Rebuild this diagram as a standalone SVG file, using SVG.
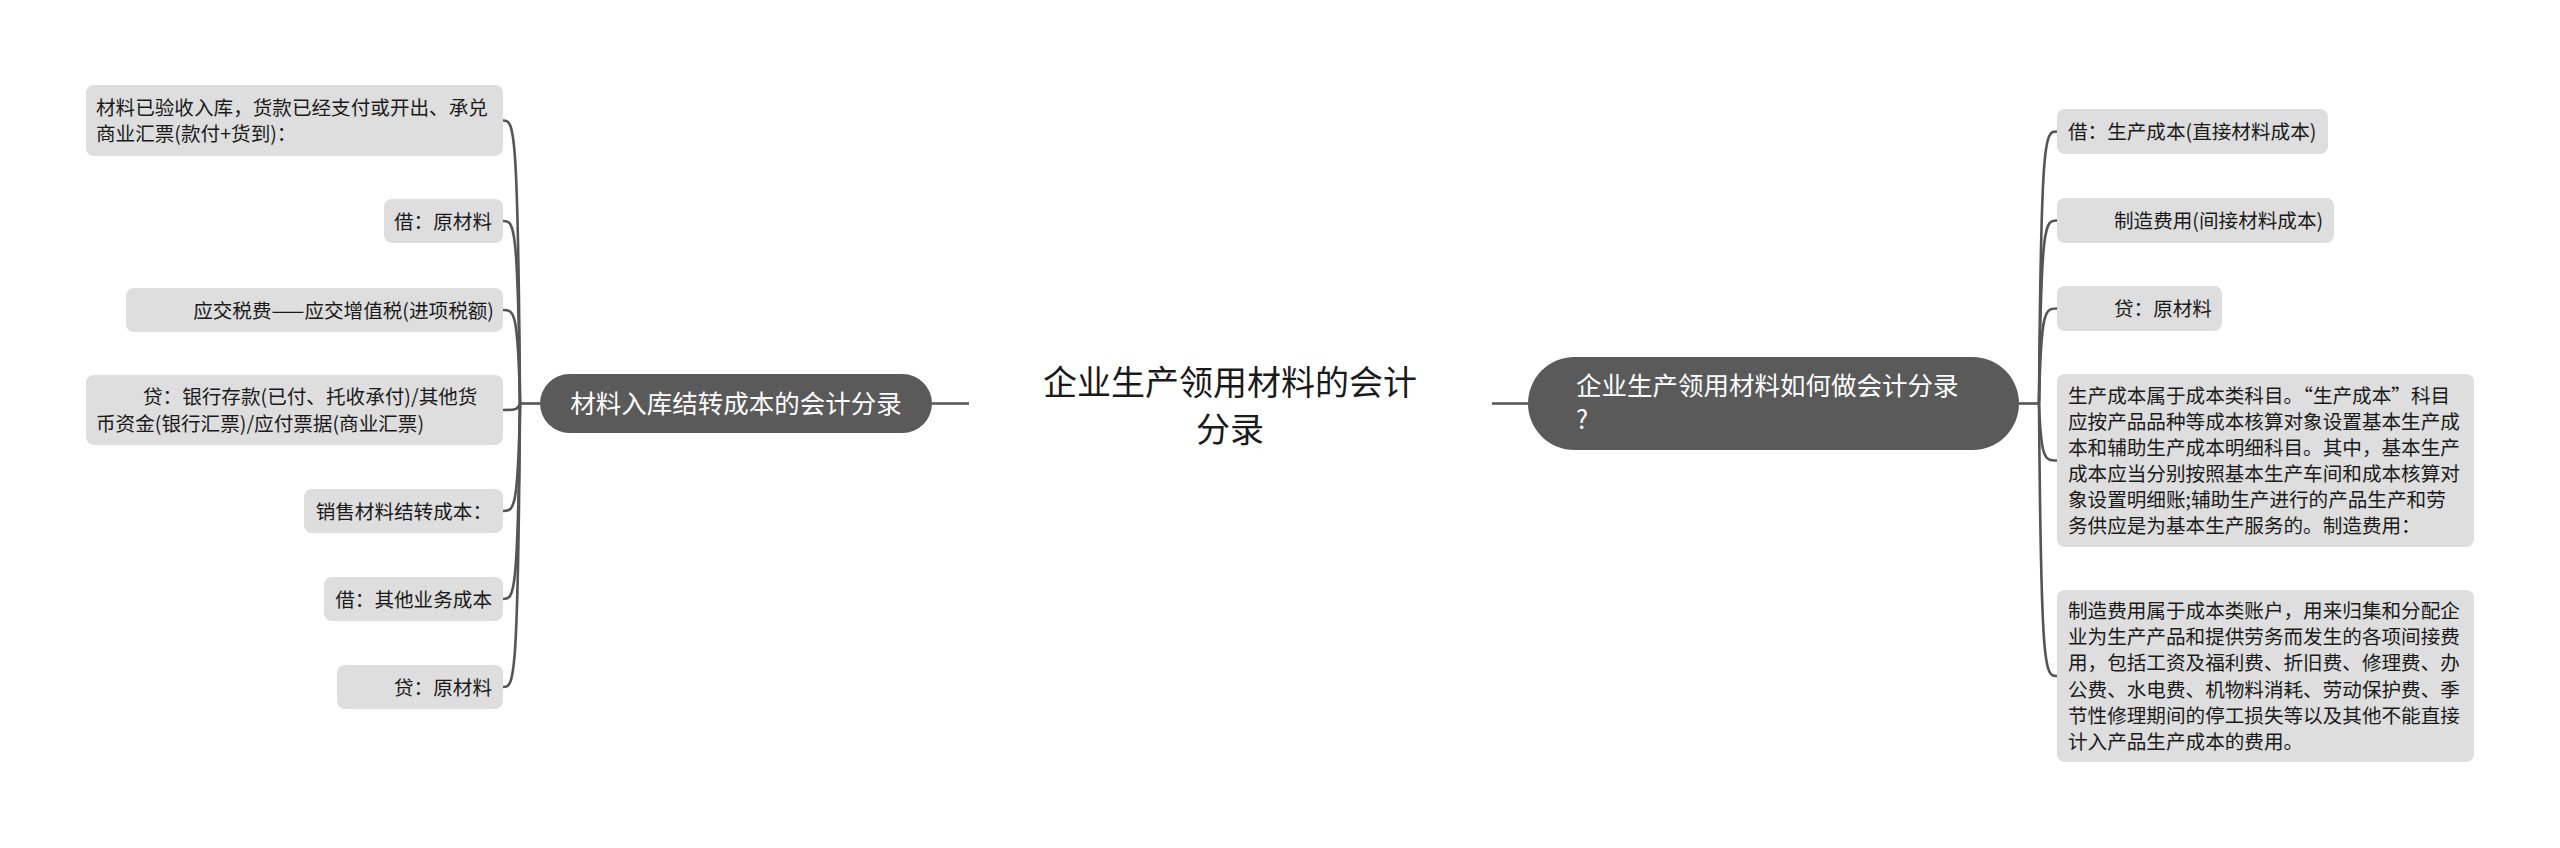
<svg xmlns="http://www.w3.org/2000/svg" width="2560" height="848" viewBox="0 0 2560 848">
<style>
text { font-family: "Noto Sans CJK SC", "Liberation Sans", sans-serif; }
.leaf rect { fill: #dedede; }
.leaf text { font-size: 19.6px; fill: #1a1a1a; }
.branch rect { fill: #5a5a5a; }
.branch text { font-size: 25.5px; fill: #ffffff; }
.title text { font-size: 34px; fill: #1a1a1a; }
.conn path { fill: none; stroke: #555555; stroke-width: 2.6; }
.e { text-anchor: end; }
</style>
<rect width="2560" height="848" fill="#ffffff"/>
<g id="connectors" class="conn">
  <path d="M932 403.5 L969 403.5"/>
  <path d="M1492 403.5 L1528 403.5"/>
  <path d="M540 403.5 L520 403.5"/>
  <path d="M520 403.5 C518 120.5, 514 120.5, 503 120.5"/>
  <path d="M520 403.5 C518 221, 514 221, 503 221"/>
  <path d="M520 403.5 C518 310, 514 310, 503 310"/>
  <path d="M520 403.5 C518 410, 514 410, 503 410"/>
  <path d="M520 403.5 C518 511, 514 511, 503 511"/>
  <path d="M520 403.5 C518 599, 514 599, 503 599"/>
  <path d="M520 403.5 C518 687, 514 687, 503 687"/>
  <path d="M2019 403.5 L2039 403.5"/>
  <path d="M2039 403.5 C2041 131.5, 2045 131.5, 2057 131.5"/>
  <path d="M2039 403.5 C2041 220.5, 2045 220.5, 2057 220.5"/>
  <path d="M2039 403.5 C2041 308.5, 2045 308.5, 2057 308.5"/>
  <path d="M2039 403.5 C2041 460.5, 2045 460.5, 2057 460.5"/>
  <path d="M2039 403.5 C2041 676, 2045 676, 2057 676"/>
</g>
<g id="title" class="title">
  <text x="1230" y="395" text-anchor="middle">企业生产领用材料的会计</text>
  <text x="1230" y="442" text-anchor="middle">分录</text>
</g>
<g id="branch-left" class="branch">
  <rect x="540" y="374" width="392" height="59" rx="29.5"/>
  <text x="736" y="413" text-anchor="middle">材料入库结转成本的会计分录</text>
</g>
<g id="branch-right" class="branch">
  <rect x="1528" y="357" width="491" height="93" rx="46.5"/>
  <text x="1576" y="395">企业生产领用材料如何做会计分录</text>
  <text x="1576" y="429">?</text>
</g>
<g id="l1" class="leaf">
  <rect x="86" y="85" width="417" height="71" rx="8"/>
  <text x="96" y="114.75">材料已验收入库，货款已经支付或开出、承兑</text>
  <text x="96" y="141.25">商业汇票(款付+货到)：</text>
</g>
<g id="l2" class="leaf">
  <rect x="384" y="199" width="119" height="44" rx="8"/>
  <text class="e" x="492" y="228.5">借：原材料</text>
</g>
<g id="l3" class="leaf">
  <rect x="126" y="288" width="377" height="44" rx="8"/>
  <text class="e" x="494" y="317.5">应交税费——应交增值税(进项税额)</text>
</g>
<g id="l4" class="leaf">
  <rect x="86" y="375" width="417" height="70" rx="8"/>
  <text x="143" y="404.25">贷：银行存款(已付、托收承付)/其他货</text>
  <text x="96" y="430.75">币资金(银行汇票)/应付票据(商业汇票)</text>
</g>
<g id="l5" class="leaf">
  <rect x="304" y="489" width="199" height="44" rx="8"/>
  <text class="e" x="492" y="518.5">销售材料结转成本：</text>
</g>
<g id="l6" class="leaf">
  <rect x="324" y="577" width="179" height="44" rx="8"/>
  <text class="e" x="492" y="606.5">借：其他业务成本</text>
</g>
<g id="l7" class="leaf">
  <rect x="337" y="665" width="166" height="44" rx="8"/>
  <text class="e" x="492" y="694.5">贷：原材料</text>
</g>
<g id="r1" class="leaf">
  <rect x="2057" y="109" width="271" height="45" rx="8"/>
  <text x="2068" y="139">借：生产成本(直接材料成本)</text>
</g>
<g id="r2" class="leaf">
  <rect x="2057" y="198" width="277" height="45" rx="8"/>
  <text x="2114" y="228">制造费用(间接材料成本)</text>
</g>
<g id="r3" class="leaf">
  <rect x="2057" y="286" width="165" height="45" rx="8"/>
  <text x="2114" y="316">贷：原材料</text>
</g>
<g id="r4" class="leaf">
  <rect x="2057" y="374" width="417" height="173" rx="8"/>
  <text x="2068" y="402.75">生产成本属于成本类科目。“生产成本”科目</text>
  <text x="2068" y="428.85">应按产品品种等成本核算对象设置基本生产成</text>
  <text x="2068" y="454.95">本和辅助生产成本明细科目。其中，基本生产</text>
  <text x="2068" y="481.05">成本应当分别按照基本生产车间和成本核算对</text>
  <text x="2068" y="507.15">象设置明细账;辅助生产进行的产品生产和劳</text>
  <text x="2068" y="533.25">务供应是为基本生产服务的。制造费用：</text>
</g>
<g id="r5" class="leaf">
  <rect x="2057" y="590" width="417" height="172" rx="8"/>
  <text x="2068" y="618.25">制造费用属于成本类账户，用来归集和分配企</text>
  <text x="2068" y="644.35">业为生产产品和提供劳务而发生的各项间接费</text>
  <text x="2068" y="670.45">用，包括工资及福利费、折旧费、修理费、办</text>
  <text x="2068" y="696.55">公费、水电费、机物料消耗、劳动保护费、季</text>
  <text x="2068" y="722.65">节性修理期间的停工损失等以及其他不能直接</text>
  <text x="2068" y="748.75">计入产品生产成本的费用。</text>
</g>
</svg>
